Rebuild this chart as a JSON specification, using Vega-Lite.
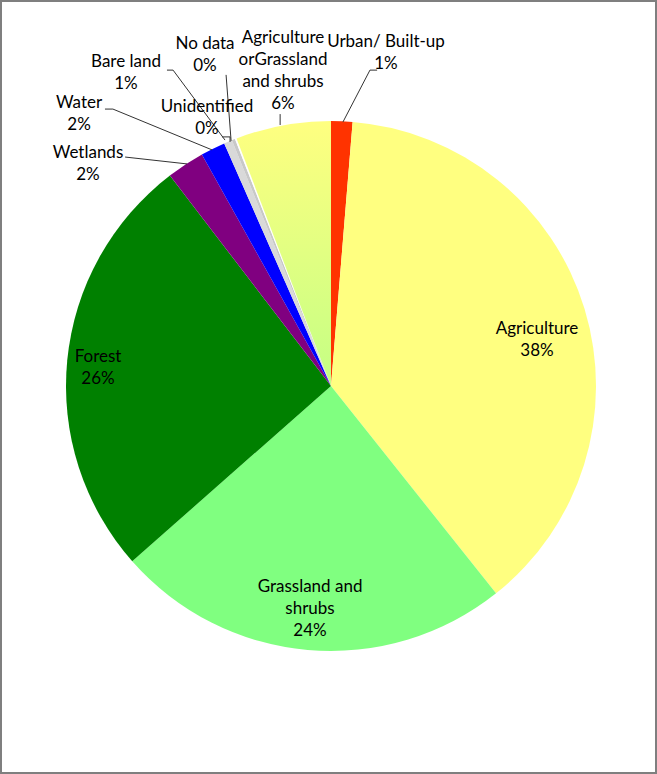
{
  "$schema": "https://vega.github.io/schema/vega-lite/v6.json",
  "width": 657,
  "height": 774,
  "autosize": {"type": "fit", "contains": "padding"},
  "padding": 0,
  "background": "white",
  "view": {"stroke": "#7f7f7f", "strokeWidth": 4},
  "config": {"axis": {"disable": true}, "text": {"font": "Lato", "fontSize": 17, "fill": "#000000"}},
  "datasets": {
    "slices": [
      {"i": 1, "cat": "Urban/ Built-up", "pct": 1.3},
      {"i": 2, "cat": "Agriculture", "pct": 38.0},
      {"i": 3, "cat": "Grassland and shrubs", "pct": 24.2},
      {"i": 4, "cat": "Forest", "pct": 26.1},
      {"i": 5, "cat": "Wetlands", "pct": 2.3},
      {"i": 6, "cat": "Water", "pct": 1.5},
      {"i": 7, "cat": "Bare land", "pct": 0.5},
      {"i": 8, "cat": "Unidentified", "pct": 0.2},
      {"i": 9, "cat": "No data", "pct": 0.1},
      {"i": 10, "cat": "Agriculture orGrassland and shrubs", "pct": 5.8}
    ],
    "labels": [
      {"text": "Urban/ Built-up\n1%", "x": 0.2075, "y": 1.2981},
      {"text": "Agriculture\norGrassland\nand shrubs\n6%", "x": -0.1811, "y": 1.3132},
      {"text": "No data\n0%", "x": -0.4755, "y": 1.2906},
      {"text": "Bare land\n1%", "x": -0.7736, "y": 1.2226},
      {"text": "Water\n2%", "x": -0.9509, "y": 1.0679},
      {"text": "Wetlands\n2%", "x": -0.917, "y": 0.8792},
      {"text": "Unidentified\n0%", "x": -0.4679, "y": 1.0528},
      {"text": "Forest\n26%", "x": -0.8792, "y": 0.1094},
      {"text": "Agriculture\n38%", "x": 0.7774, "y": 0.2151},
      {"text": "Grassland and\nshrubs\n24%", "x": -0.0792, "y": -0.7585}
    ],
    "leaders": [
      {"k": "Urban", "o": 1, "x": 0.045, "y": 0.996},
      {"k": "Urban", "o": 2, "x": 0.147, "y": 1.192},
      {"k": "Urban", "o": 3, "x": 0.174, "y": 1.192},
      {"k": "AgriGrass", "o": 1, "x": -0.192, "y": 1.026},
      {"k": "AgriGrass", "o": 2, "x": -0.192, "y": 0.985},
      {"k": "NoData", "o": 1, "x": -0.396, "y": 1.174},
      {"k": "NoData", "o": 2, "x": -0.377, "y": 0.925},
      {"k": "Bare", "o": 1, "x": -0.619, "y": 1.192},
      {"k": "Bare", "o": 2, "x": -0.596, "y": 1.192},
      {"k": "Bare", "o": 3, "x": -0.4, "y": 0.928},
      {"k": "Water", "o": 1, "x": -0.853, "y": 1.045},
      {"k": "Water", "o": 2, "x": -0.823, "y": 1.045},
      {"k": "Water", "o": 3, "x": -0.449, "y": 0.891},
      {"k": "Wetlands", "o": 1, "x": -0.777, "y": 0.864},
      {"k": "Wetlands", "o": 2, "x": -0.543, "y": 0.838},
      {"k": "Unid", "o": 1, "x": -0.411, "y": 0.94},
      {"k": "Unid", "o": 2, "x": -0.381, "y": 0.94},
      {"k": "Unid", "o": 3, "x": -0.381, "y": 0.921}
    ]
  },
  "layer": [
    {
      "data": {"name": "slices"},
      "mark": {"type": "arc", "radius": 265},
      "encoding": {
        "x": {"datum": 0, "type": "quantitative", "scale": {"domain": [-1.2491, 1.2302], "nice": false, "zero": false}},
        "y": {"datum": 0, "type": "quantitative", "scale": {"domain": [-1.4642, 1.4566], "nice": false, "zero": false}},
        "theta": {"field": "pct", "type": "quantitative", "stack": true},
        "order": {"field": "i", "type": "quantitative"},
        "color": {
          "condition": {
            "test": "datum.cat === 'Agriculture orGrassland and shrubs'",
            "value": {"gradient": "linear", "x1": 0, "y1": 0, "x2": 0, "y2": 1,
              "stops": [{"offset": 0, "color": "#FFFF80"}, {"offset": 1, "color": "#C4FF84"}]}
          },
          "field": "cat", "type": "nominal", "legend": null,
          "scale": {
            "domain": ["Urban/ Built-up", "Agriculture", "Grassland and shrubs", "Forest", "Wetlands", "Water", "Bare land", "Unidentified", "No data", "Agriculture orGrassland and shrubs"],
            "range": ["#FF3300", "#FFFF80", "#80FF80", "#008000", "#800080", "#0000FF", "#D9D9D9", "#C8C8C8", "#FFFFFF", "#E0FF80"]
          }
        }
      }
    },
    {
      "data": {"name": "leaders"},
      "mark": {"type": "line", "color": "#333333", "strokeWidth": 1},
      "encoding": {
        "x": {"field": "x", "type": "quantitative"},
        "y": {"field": "y", "type": "quantitative"},
        "detail": {"field": "k", "type": "nominal"},
        "order": {"field": "o", "type": "quantitative"}
      }
    },
    {
      "data": {"name": "labels"},
      "mark": {"type": "text", "lineBreak": "\n", "lineHeight": 22, "align": "center", "baseline": "middle"},
      "encoding": {
        "x": {"field": "x", "type": "quantitative"},
        "y": {"field": "y", "type": "quantitative"},
        "text": {"field": "text", "type": "nominal"}
      }
    }
  ]
}
